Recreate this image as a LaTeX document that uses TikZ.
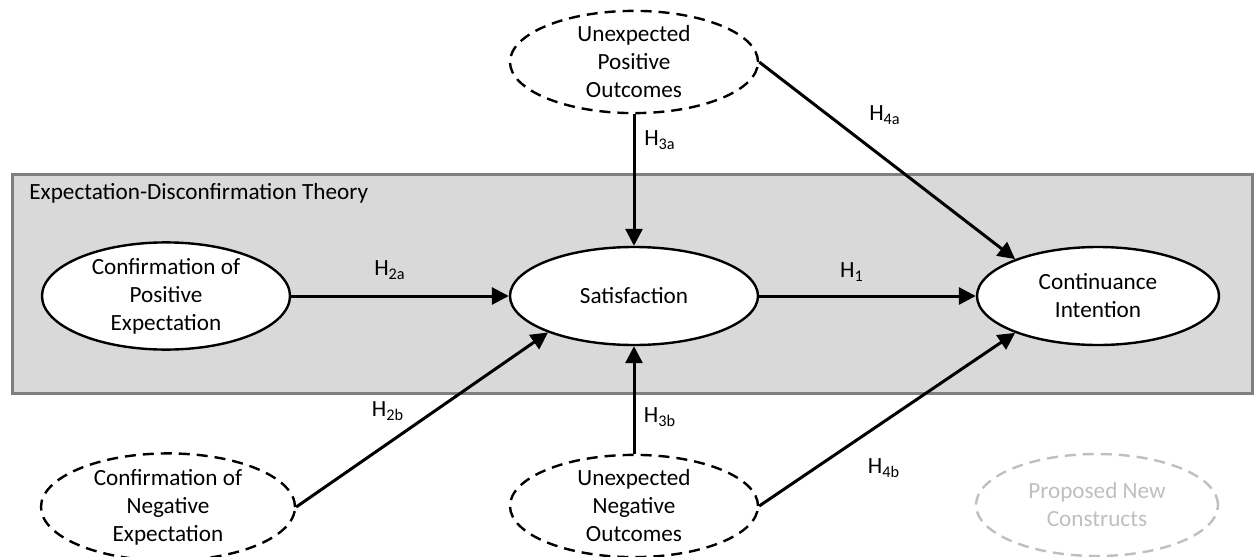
\documentclass[tikz,border=0pt]{standalone}
\usepackage{fontspec}
\setmainfont{Carlito}
\usetikzlibrary{shapes.geometric,arrows.meta}
\definecolor{boxfill}{HTML}{D9D9D9}
\definecolor{boxline}{HTML}{7F7F7F}
\definecolor{newgray}{HTML}{BFBFBF}
\begin{document}
\begin{tikzpicture}[x=0.5pt,y=-0.5pt,
  every node/.style={font=\fontsize{11.6}{14}\selectfont},
  construct/.style={ellipse, draw=black, line width=1.2pt, fill=white, minimum width=124pt, minimum height=49pt, inner sep=0pt, align=center},
  newconstruct/.style={construct, dash pattern=on 5.5pt off 3.5pt, fill=none},
  hyp/.style={line width=1.5pt, -{Triangle[length=8.5pt,width=8.5pt]}},
  hlabel/.style={inner sep=0pt}
]
\useasboundingbox (0,0) rectangle (1254,557);
\draw[fill=boxfill, draw=boxline, line width=1.5pt] (12,174) rectangle (1252,393);
\node[anchor=west, inner sep=0pt] (edt) at (29,193) {Expectation-Disconfirmation Theory};

\node[construct] (cpe) at (166,296) {Confirmation of\\Positive\\Expectation};
\node[construct] (sat) at (634,296) {Satisfaction};
\node[construct, minimum width=121pt] (ci) at (1098,296) {Continuance\\Intention};
\node[newconstruct] (upo) at (634,62) {Unexpected\\Positive\\Outcomes};
\node[newconstruct] (uno) at (634,506) {Unexpected\\Negative\\Outcomes};
\node[newconstruct, minimum width=127pt] (cne) at (168,507) {Confirmation of\\Negative\\Expectation};
\node[newconstruct, draw=newgray, text=newgray, minimum width=121pt, minimum height=51pt] (pnc) at (1097,505) {Proposed New\\Constructs};

\draw[hyp] (cpe.east) -- (sat.west);
\draw[hyp] (sat.east) -- (ci.west);
\draw[hyp] (upo.south) -- (sat.north);
\draw[hyp] (uno.north) -- (sat.south);
\draw[hyp] (cne.east) -- (sat.203);
\draw[hyp] (upo.east) -- (ci.156);
\draw[hyp] (uno.east) -- (ci.204);

\node[hlabel] (h2a) at (390,270) {H\textsubscript{2a}};
\node[hlabel] (h2b) at (388,411) {H\textsubscript{2b}};
\node[hlabel] (h3a) at (660,140) {H\textsubscript{3a}};
\node[hlabel] (h3b) at (660,417) {H\textsubscript{3b}};
\node[hlabel] (h1) at (852,272) {H\textsubscript{1}};
\node[hlabel] (h4a) at (885,115) {H\textsubscript{4a}};
\node[hlabel] (h4b) at (884,468) {H\textsubscript{4b}};
\end{tikzpicture}
\end{document}
